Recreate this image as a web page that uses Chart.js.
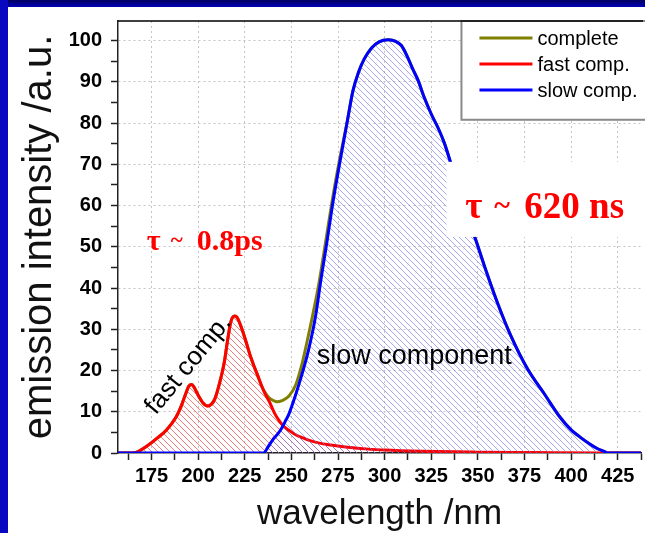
<!DOCTYPE html>
<html><head><meta charset="utf-8">
<script src="https://cdn.jsdelivr.net/npm/chart.js@4/dist/chart.umd.min.js"></script>
<style>
html,body{margin:0;padding:0;background:#fff;overflow:hidden}
#wrap{position:relative;width:645px;height:533px;overflow:hidden}
#c{position:absolute;left:0;top:0}
.bt{position:absolute;left:0;top:0;width:645px;height:7px;background:linear-gradient(#000060,#0000b8)}
.bl{position:absolute;left:0;top:0;width:8px;height:533px;background:#0808c0}
</style></head>
<body><div id="wrap"><canvas id="c" width="645" height="533"></canvas><div class="bt"></div><div class="bl"></div></div>
<script>
// ---- data (wavelength in nm, intensity in a.u.) ----
const seriesNames = ['complete', 'fast comp.', 'slow comp.'];

const fastX = [157,165,168,172,178,183,188,191,193,195,196.5,198,200,202.5,205,207,209,211.5,214,216,217.5,219.5,221,223.5,226,228,230,232,234,236,238,241,243.5,246,249,252,256,260,265,270,280,290,300,320,350,380,415,437.5];
const fastY = [0,0,0.4,1.5,3.6,5.6,8.6,11.5,14,16.2,16.6,15.8,14,12.2,11.4,11.8,13.2,17,22,28,31.8,33.2,32.8,30,26.5,23.5,21,18.7,16.3,14.2,12.6,9.6,7.8,6.4,5.4,4.5,3.7,3,2.4,2,1.4,1,0.7,0.4,0.2,0.1,0,0];

const slowX = [157,235,237.5,240,243,245,246.5,248.7,252.4,255.6,259.3,263,266,269,272,276,280,283,286,289,293,297,302,306,309,312,315,318,321,325,329,332,335,340,345,348.4,353.7,360.6,367.6,376.6,385.7,394.2,400,405,410,414,417.7,420,437.5];
const slowY = [0,0,1.5,3.2,4.8,6.2,7.5,9.5,14.3,19,25.2,33.3,42.5,51,60,70.5,80.5,87.8,92.3,95.5,98.2,99.7,100.2,99.8,98.8,96.3,93.2,90.3,86.5,82.2,78.5,75.2,71,63.5,56.5,52.3,45.1,36.3,28.5,20.4,14.3,8.6,5.6,3.8,2.2,1.1,0.4,0,0];

const completeX = [157,165,168,172,178,183,188,191,193,195,196.5,198,200,202.5,205,207,209,211.5,214,216,217.5,219.5,221,223.5,226,228,230,232,234,236,238,240,242.3,245,248.7,252.4,255.6,258.3,262,264.7,266,269,272,276,280,283,286,289,293,297,302,306,309,312,315,318,321,325,329,332,335,340,345,348.4,353.7,360.6,367.6,376.6,385.7,394.2,400,405,410,414,417.7,420,437.5];
const completeY = [0,0,0.4,1.5,3.6,5.6,8.6,11.5,14,16.2,16.6,15.8,14,12.2,11.4,11.8,13.2,17,22,28,31.8,33.2,32.8,30,26.5,23.5,21,18.7,16.3,14.6,13.4,12.8,12.4,12.7,13.8,16.6,21.4,26.8,34.7,41,44.5,53,61.5,71.5,80.5,87.8,92.3,95.5,98.2,99.7,100.2,99.8,98.8,96.3,93.2,90.3,86.5,82.2,78.5,75.2,71,63.5,56.5,52.3,45.1,36.3,28.5,20.4,14.3,8.6,5.6,3.8,2.2,1.1,0.4,0,0];

const xMin = 157, xMax = 437.5, xMajor = 25, xMinor = 12.5;
const yMin = 0, yMax = 104.75, yMajor = 10, yMinor = 5;
const xTitle = 'wavelength /nm';
const yTitle = 'emission intensity /a.u.';

// ---- helpers ----
const pts = (xs, ys) => xs.map((v, i) => ({x: v, y: ys[i]}));
function hatch(color, s, lw) {
  const c = document.createElement('canvas'); c.width = c.height = s;
  const g = c.getContext('2d');
  g.strokeStyle = color; g.lineWidth = lw;
  g.beginPath();
  for (const x0 of [-s, 0, s]) { g.moveTo(x0, 0); g.lineTo(x0 + s, s); }
  g.stroke();
  return g.createPattern(c, 'repeat');
}
const SANS = '"Liberation Sans", Arial, sans-serif';
const SERIF = '"Liberation Serif", "Times New Roman", serif';

const annot = {
  id: 'annot',
  afterDatasetsDraw(chart) {
    const {ctx, chartArea: a, scales: {x, y}} = chart;
    ctx.save();
    // white label box for slow component lifetime
    const bx = x.getPixelForValue(333.2), by1 = y.getPixelForValue(70.6), by2 = y.getPixelForValue(52.4);
    ctx.fillStyle = '#fff';
    ctx.fillRect(bx, by1, a.right - bx + 2, by2 - by1);
    ctx.fillStyle = '#ff0000';
    ctx.textBaseline = 'alphabetic'; ctx.textAlign = 'left';
    // tau ~ 620 ns
    let tx = x.getPixelForValue(343.3), ty = y.getPixelForValue(57);
    ctx.font = 'bold 37px ' + SERIF; ctx.fillText('τ', tx, ty);
    ctx.font = 'bold 30px ' + SERIF; ctx.fillText('~', tx + 29, ty - 3);
    ctx.font = 'bold 37px ' + SERIF; ctx.fillText('620 ns', tx + 59, ty);
    // tau ~ 0.8ps
    tx = x.getPixelForValue(172.4); ty = y.getPixelForValue(49.2);
    ctx.font = 'bold 30px ' + SERIF; ctx.fillText('τ', tx, ty);
    ctx.font = 'bold 23px ' + SERIF; ctx.fillText('~', tx + 24, ty - 3);
    ctx.font = 'bold 30px ' + SERIF; ctx.fillText('0.8ps', tx + 50, ty);
    // fast comp. (rotated)
    ctx.fillStyle = '#000';
    ctx.save();
    ctx.translate(x.getPixelForValue(194.8), y.getPixelForValue(21.4));
    ctx.rotate(-50.5 * Math.PI / 180);
    ctx.font = '26px ' + SANS; ctx.textAlign = 'center'; ctx.textBaseline = 'middle';
    ctx.fillText('fast comp.', 0, 0);
    ctx.restore();
    // slow component
    ctx.font = '27px ' + SANS; ctx.textAlign = 'left'; ctx.textBaseline = 'alphabetic';
    ctx.fillText('slow component', x.getPixelForValue(263.6), y.getPixelForValue(21.6));
    ctx.restore();
  },
  afterDraw(chart) {
    const {ctx, chartArea: a, scales: {x, y}} = chart;
    ctx.save();
    // legend box
    const lx = x.getPixelForValue(341.2), lb = y.getPixelForValue(80.8);
    ctx.fillStyle = '#fff';
    ctx.fillRect(lx, a.top, a.right - lx + 2, lb - a.top);
    ctx.strokeStyle = '#8a8a8a'; ctx.lineWidth = 2;
    ctx.strokeRect(lx, a.top, a.right - lx + 10, lb - a.top);
    const rows = [38, 64, 90];
    chart.data.datasets.forEach((ds, i) => {
      const ry = rows[i];
      ctx.strokeStyle = ds.borderColor; ctx.lineWidth = 3;
      ctx.beginPath(); ctx.moveTo(lx + 18, ry); ctx.lineTo(lx + 71, ry); ctx.stroke();
      ctx.fillStyle = '#000'; ctx.font = '20px ' + SANS;
      ctx.textAlign = 'left'; ctx.textBaseline = 'middle';
      ctx.fillText(ds.label, lx + 76, ry + 1);
    });
    // top frame
    ctx.strokeStyle = '#000'; ctx.lineWidth = 1.5;
    ctx.beginPath(); ctx.moveTo(a.left, a.top); ctx.lineTo(a.right + 2, a.top); ctx.stroke();
    ctx.restore();
  }
};

const ctx = document.getElementById('c').getContext('2d');
new Chart(ctx, {
  type: 'line',
  data: {
    datasets: [
      {label: seriesNames[0], data: pts(completeX, completeY), borderColor: '#808000', borderWidth: 3,
       fill: false, order: 3},
      {label: seriesNames[1], data: pts(fastX, fastY), borderColor: '#ff0000', borderWidth: 3,
       fill: 'origin', backgroundColor: hatch('rgba(240,70,70,0.7)', 6, 1), order: 2},
      {label: seriesNames[2], data: pts(slowX, slowY), borderColor: '#0000ff', borderWidth: 3,
       fill: 'origin', backgroundColor: hatch('rgba(110,110,230,0.6)', 6, 1), order: 1}
    ]
  },
  options: {
    responsive: false, animation: false, devicePixelRatio: 1,
    layout: {padding: {left: 0, top: 12, right: 0, bottom: 0}},
    elements: {point: {radius: 0, hoverRadius: 0}, line: {cubicInterpolationMode: 'monotone', borderJoinStyle: 'round'}},
    plugins: {legend: {display: false}, tooltip: {enabled: false}},
    scales: {
      x: {
        type: 'linear', min: xMin, max: xMax,
        afterFit: s => { s.height = 80; },
        ticks: {stepSize: xMinor, includeBounds: false, autoSkip: false, maxRotation: 0, padding: 4,
                color: '#000', font: {family: SANS, size: 20, weight: 'bold'},
                callback: v => (v % xMajor === 0 ? String(v) : '')},
        grid: {color: c => (c.tick && c.tick.value % xMajor === 0) ? '#c4c4c4' : 'rgba(0,0,0,0)',
               lineWidth: 1, tickColor: '#222', tickLength: 7, tickWidth: 1.5},
        border: {color: '#222', width: 1.5, dash: [2, 3]},
        title: {display: true, text: xTitle, color: '#111', font: {family: SANS, size: 35, lineHeight: 1},
                padding: {top: 0, bottom: 1}}
      },
      y: {
        type: 'linear', min: yMin, max: yMax,
        afterFit: s => { s.width = 118; },
        ticks: {stepSize: yMinor, includeBounds: false, autoSkip: false, padding: 9,
                color: '#000', font: {family: SANS, size: 20, weight: 'bold'},
                callback: v => (v % yMajor === 0 ? String(v) : '')},
        grid: {color: c => (c.tick && c.tick.value % yMajor === 0 && c.tick.value !== 0) ? '#c4c4c4' : 'rgba(0,0,0,0)',
               lineWidth: 1, tickColor: '#222', tickLength: 7, tickWidth: 1.5},
        border: {color: '#222', width: 1.5, dash: [2, 3]},
        title: {display: true, text: yTitle, color: '#111', font: {family: SANS, size: 40, lineHeight: 1},
                padding: {top: 20, bottom: 0}}
      }
    }
  },
  plugins: [annot]
});
</script>
</body></html>
